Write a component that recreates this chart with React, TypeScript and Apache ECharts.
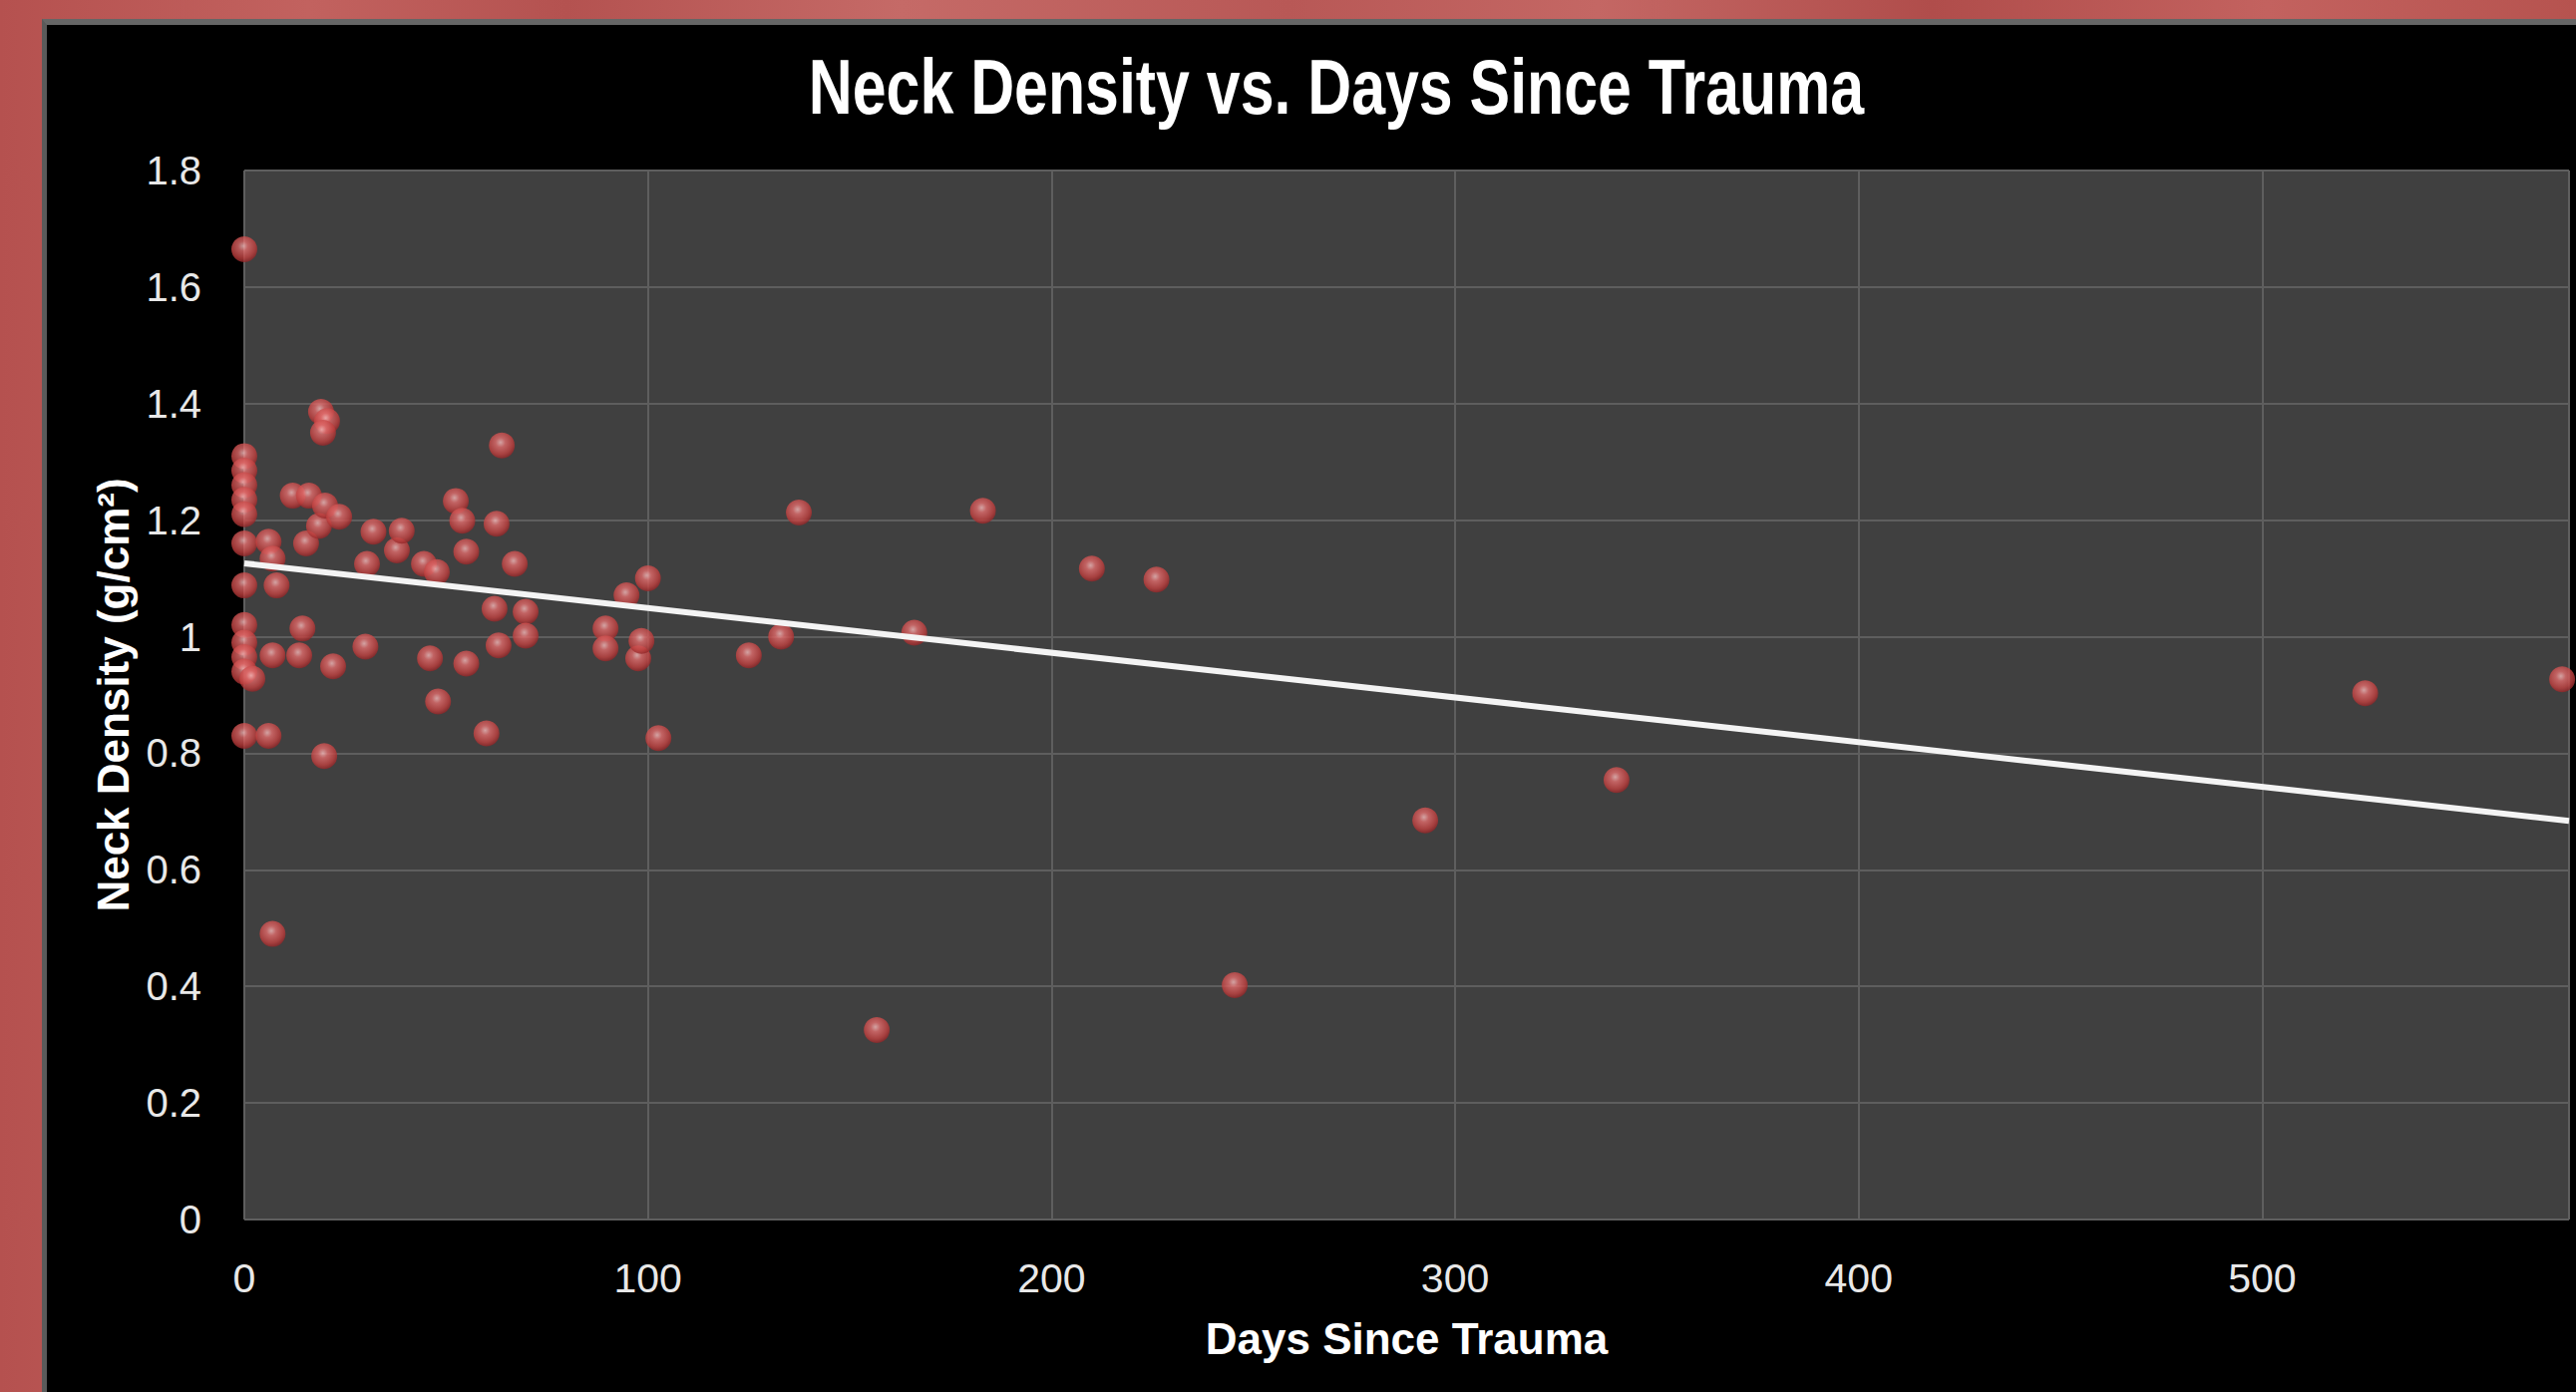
import React, { useEffect, useRef } from "react";
import * as echarts from "echarts";

// Data
const daysSinceTrauma = [
  0, 0, 0, 0, 0, 0, 0, 0, 0, 0, 0, 0, 0,
  2, 6, 6, 7, 7, 7, 8, 12, 13.6, 14.4, 15.3, 16, 18.5, 19, 20.5, 19.5, 19.8,
  20, 22, 23.5, 30.4, 30, 32, 37.8, 39, 44.5, 46, 47.7, 48, 52.4, 54, 55, 55,
  60, 62.5, 62, 63, 63.8, 67, 69.7, 69.7, 89.5, 89.5, 94.7, 97.6, 98.4, 100,
  102.6, 125, 133, 137.4, 156.7, 166, 183, 210, 226, 245.4, 292.6, 340, 525.5, 574.3,
];
const neckDensity = [
  1.665, 1.31, 1.285, 1.26, 1.235, 1.21, 1.16, 1.088, 1.02, 0.99, 0.965, 0.94, 0.83,
  0.928, 1.163, 0.83, 1.134, 0.968, 0.49, 1.088, 1.242, 0.968, 1.014, 1.16, 1.242, 1.19, 1.386, 1.37, 1.35, 0.795,
  1.225, 0.949, 1.206, 1.125, 0.983, 1.18, 1.148, 1.182, 1.125, 0.963, 1.111, 0.889, 1.233, 1.199, 1.146, 0.954,
  0.834, 1.194, 1.048, 0.985, 1.328, 1.125, 1.043, 1.002, 1.014, 0.98, 1.071, 0.963, 0.993, 1.1,
  0.826, 0.968, 1.0, 1.213, 0.325, 1.007, 1.216, 1.117, 1.098, 0.402, 0.685, 0.754, 0.903, 0.927,
];
const trendDays = [0, 576];
const trendDensity = [1.126, 0.684];

const xTickLabels = ["0", "100", "200", "300", "400", "500"];

const TITLE = "Neck Density vs. Days Since Trauma";
const X_NAME = "Days Since Trauma";
const Y_NAME = "Neck Density (g/cm²)";

const FONT = "'Liberation Sans', Arial, sans-serif";

export default function App() {
  const ref = useRef<HTMLDivElement>(null);

  useEffect(() => {
    if (!ref.current) return;
    const chart = echarts.init(ref.current, undefined, { renderer: "svg" });
    const points = daysSinceTrauma.map((d, i) => [d, neckDensity[i]]);
    const trend = trendDays.map((d, i) => [d, trendDensity[i]]);

    chart.setOption({
      animation: false,
      backgroundColor: "transparent",
      graphic: [
        {
          type: "text",
          x: 1340,
          y: 87,
          scaleX: 0.78,
          z: 10,
          style: {
            text: TITLE,
            fill: "#ffffff",
            font: "bold 78px 'Liberation Sans', Arial, sans-serif",
            textAlign: "center",
            textVerticalAlign: "middle",
          },
        },
      ],
      grid: {
        left: 245,
        right: 7,
        top: 171,
        bottom: 173,
        show: true,
        backgroundColor: "#404040",
        borderWidth: 0,
      },
      xAxis: {
        type: "value",
        min: 0,
        max: 576,
        interval: 100,
        axisLine: { show: false },
        axisTick: { show: false },
        splitLine: { show: true, lineStyle: { color: "#5e5e5e", width: 2 } },
        axisLabel: {
          color: "#e8e8e8",
          fontSize: 41,
          fontFamily: FONT,
          margin: 38,
          showMaxLabel: false,
          formatter: (v: number) => (xTickLabels.includes(String(v)) ? String(v) : ""),
        },
        name: X_NAME,
        nameLocation: "middle",
        nameGap: 97,
        nameTextStyle: {
          color: "#ffffff",
          fontSize: 44,
          fontWeight: "bold",
          fontFamily: FONT,
        },
      },
      yAxis: {
        type: "value",
        min: 0,
        max: 1.8,
        interval: 0.2,
        axisLine: { show: false },
        axisTick: { show: false },
        splitLine: { show: true, lineStyle: { color: "#5e5e5e", width: 2 } },
        axisLabel: {
          color: "#e8e8e8",
          fontSize: 40,
          fontFamily: FONT,
          margin: 43,
        },
        name: Y_NAME,
        nameLocation: "middle",
        nameGap: 110,
        nameTextStyle: {
          color: "#ffffff",
          fontSize: 44,
          fontWeight: "bold",
          fontFamily: FONT,
        },
      },
      series: [
        {
          type: "scatter",
          data: points,
          symbol: "circle",
          symbolSize: 26,
          clip: false,
          z: 3,
          itemStyle: {
            color: new echarts.graphic.RadialGradient(0.45, 0.38, 0.62, [
              { offset: 0, color: "#f8bcbc" },
              { offset: 0.3, color: "#e26c6c" },
              { offset: 0.75, color: "#c0403f" },
              { offset: 1, color: "#922628" },
            ]),
          },
        },
        {
          type: "line",
          data: trend,
          symbol: "none",
          z: 4,
          lineStyle: { color: "#f4f4f4", width: 6 },
        },
      ],
    });
    return () => chart.dispose();
  }, []);

  return (
    <div
      style={{
        position: "fixed",
        left: 0,
        top: 0,
        width: 2583,
        height: 1396,
        overflow: "hidden",
        background:
          "linear-gradient(90deg, #b5514f 0%, #c2625f 12%, #b45250 22%, #c56a67 35%, #b85856 50%, #c46764 62%, #b04d4b 75%, #c3625f 88%, #b6534f 100%)",
      }}
    >
      <div
        style={{
          position: "absolute",
          left: 42,
          top: 19,
          width: 2583 - 42,
          height: 1396 - 19,
          background: "#000",
          borderTop: "6px solid #666",
          borderLeft: "5px solid #5a5a5a",
          boxSizing: "border-box",
        }}
      />
      <div ref={ref} style={{ position: "absolute", left: 0, top: 0, width: 2583, height: 1396 }} />
    </div>
  );
}
